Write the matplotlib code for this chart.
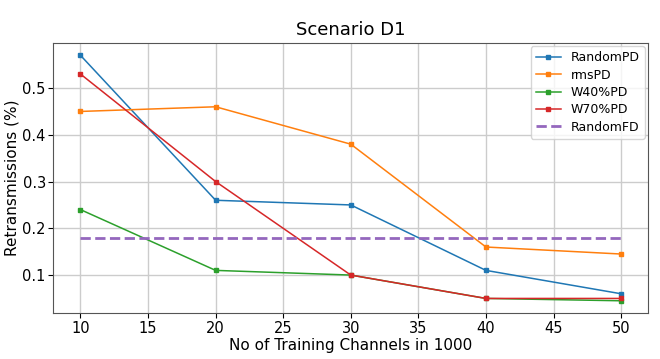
import numpy as np
import matplotlib
matplotlib.use("Agg")
import matplotlib.pyplot as plt

channels = [10, 20, 30, 40, 50]
random_pd = [0.57, 0.26, 0.25, 0.11, 0.06]
rms_pd = [0.45, 0.46, 0.38, 0.16, 0.145]
w40_pd = [0.24, 0.11, 0.10, 0.05, 0.045]
w70_pd = [0.53, 0.30, 0.10, 0.05, 0.05]
random_fd = [0.18, 0.18, 0.18, 0.18, 0.18]

fig = plt.figure(figsize=(6.6, 3.59), dpi=100)
ax = fig.add_axes([0.081, 0.128, 0.901, 0.752])

ax.plot(channels, random_pd, color="#1f77b4", marker="s", ms=3, lw=1.1, label="RandomPD")
ax.plot(channels, rms_pd, color="#ff7f0e", marker="s", ms=3, lw=1.1, label="rmsPD")
ax.plot(channels, w40_pd, color="#2ca02c", marker="s", ms=3, lw=1.1, label="W40%PD")
ax.plot(channels, w70_pd, color="#d62728", marker="s", ms=3, lw=1.1, label="W70%PD")
ax.plot(channels, random_fd, color="#9467bd", ls="--", lw=2, label="RandomFD")

ax.set_title("Scenario D1", fontsize=13)
ax.set_xlabel("No of Training Channels in 1000", fontsize=11, labelpad=2)
ax.set_ylabel("Retransmissions (%)", fontsize=11, labelpad=2)
ax.tick_params(labelsize=10.5, pad=2)
ax.set_xticks([10, 15, 20, 25, 30, 35, 40, 45, 50])
ax.set_yticks([0.1, 0.2, 0.3, 0.4, 0.5])
ax.grid(True, color="#cccccc", lw=1)
for s in ax.spines.values():
    s.set_color("#555555")
ax.legend(fontsize=9, loc="upper right", handlelength=2, labelspacing=0.35,
          borderaxespad=0.25)

fig.savefig("out.png", dpi=100)
